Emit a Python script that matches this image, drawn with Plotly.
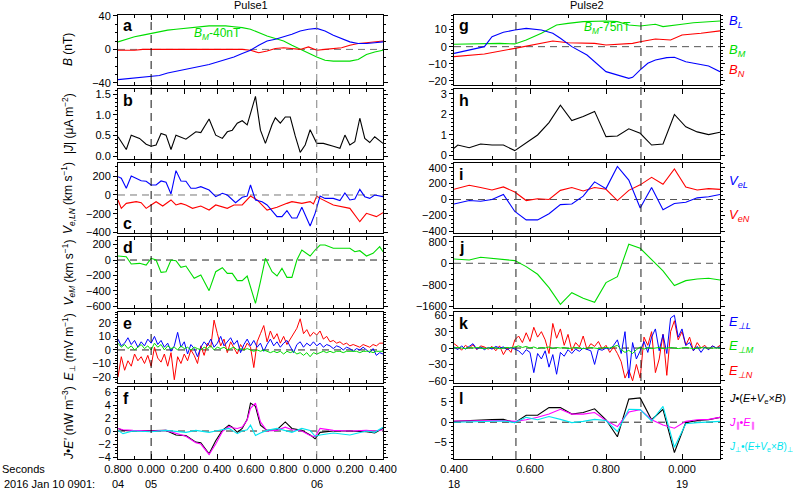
import plotly.graph_objects as go

# ------------------------------------------------------------------ data
# Pulse 1 (seconds after 09:01:00, 2016 Jan 10)
BT1 = [4.80, 4.85, 4.90, 4.95, 5.00, 5.05, 5.10, 5.15, 5.20, 5.25, 5.30, 5.35, 5.40,
       5.45, 5.50, 5.55, 5.60, 5.65, 5.70, 5.75, 5.80, 5.85, 5.90, 5.95, 6.00, 6.05,
       6.10, 6.15, 6.20, 6.25, 6.30, 6.35, 6.40]
BL1 = [-36, -35, -34, -33, -32, -31, -28, -26, -24, -22, -20, -18, -15, -12, -9, -5, -1,
       5, 10, 12, 15, 18, 22, 24, 25, 22, 17, 13, 9, 7, 7, 8, 9]
BM1 = [9, 12, 15, 17, 19, 21, 23, 24, 25, 26, 27, 28, 28, 28, 27, 26, 24, 20, 16, 13,
       10, 5, 0, -5, -9, -13, -14, -14, -14, -12, -6, -3, -1]
BN1 = [-1, -1, -1, 0, 0, 0, 0, 0, 0, 0, 0, 0, 0, 0, 0, 0, -1, -4, -2, 1, 2, 1, 0, 3, -1,
       0, 1, 2, 5, 7, 8, 9, 10]

JT1 = [4.80, 4.85, 4.88, 4.93, 4.97, 5.00, 5.03, 5.06, 5.09, 5.12, 5.15, 5.21, 5.27,
       5.30, 5.35, 5.39, 5.43, 5.46, 5.49, 5.52, 5.55, 5.58, 5.63, 5.66, 5.69, 5.73,
       5.75, 5.78, 5.81, 5.84, 5.87, 5.90, 5.93, 5.96, 6.00, 6.04, 6.10, 6.14, 6.17,
       6.20, 6.23, 6.26, 6.29, 6.32, 6.35, 6.40]
J1 = [0.47, 0.16, 0.51, 0.43, 0.29, 0.24, 0.27, 0.55, 0.51, 0.16, 0.51, 0.41, 0.59,
      0.57, 0.90, 0.51, 0.43, 0.59, 0.63, 0.80, 0.86, 0.76, 1.45, 0.63, 0.31, 0.76,
      0.93, 0.80, 0.95, 0.95, 0.49, 0.09, 0.27, 0.64, 0.31, 0.31, 0.24, 0.19, 0.51,
      0.27, 0.35, 0.92, 0.43, 0.33, 0.47, 0.31]

VLT1 = [4.80, 4.82, 4.85, 4.88, 4.94, 4.97, 5.00, 5.03, 5.06, 5.09, 5.12, 5.15, 5.18,
        5.21, 5.24, 5.27, 5.30, 5.35, 5.39, 5.43, 5.46, 5.51, 5.55, 5.58, 5.60, 5.63,
        5.67, 5.70, 5.76, 5.79, 5.82, 5.85, 5.88, 5.91, 5.96, 5.99, 6.02, 6.05, 6.10,
        6.14, 6.17, 6.20, 6.23, 6.26, 6.29, 6.32, 6.35, 6.40]
VL1 = [195, 178, 71, 202, 152, 146, 106, 106, 149, 135, 11, 259, 149, 146, 71, 71, 89,
       53, -18, 18, 0, -82, -25, -11, 106, -53, -71, -106, -230, -230, -167, -245, -245,
       -130, -330, -195, -11, -36, -36, -60, 21, -53, -43, 60, -18, -36, 0, -18]
VNT1 = [4.80, 4.82, 4.85, 4.91, 4.94, 4.97, 5.00, 5.03, 5.07, 5.12, 5.15, 5.18, 5.21,
        5.25, 5.30, 5.35, 5.39, 5.46, 5.50, 5.55, 5.60, 5.64, 5.70, 5.76, 5.82, 5.85,
        5.91, 5.96, 5.98, 6.00, 6.02, 6.10, 6.20, 6.26, 6.30, 6.34, 6.36, 6.40]
VN1 = [-53, -142, -89, -71, -82, -142, -106, -71, -117, -53, -106, -89, -106, -142,
       -117, -160, -106, -142, -106, -106, -11, -53, -160, -130, -89, -71, -89, -71,
       -96, -11, -36, -106, -142, -284, -195, -213, -230, -188]

VMT1 = [4.80, 4.85, 4.88, 4.93, 4.97, 5.00, 5.03, 5.06, 5.09, 5.12, 5.15, 5.18, 5.21,
        5.26, 5.30, 5.35, 5.39, 5.43, 5.46, 5.49, 5.52, 5.55, 5.58, 5.63, 5.66, 5.69,
        5.73, 5.76, 5.79, 5.82, 5.85, 5.88, 5.91, 5.96, 5.99, 6.02, 6.05, 6.10, 6.20,
        6.23, 6.26, 6.30, 6.34, 6.38, 6.40]
VM1 = [52, 43, -52, -43, -65, 22, 0, -160, -152, 0, -9, -95, -78, -238, -195, -398,
       -152, -100, -173, -173, -268, -268, -208, -563, -281, 22, -152, -208, -108, -225,
       -225, 0, 130, 52, 130, 195, 195, 152, 152, 108, 121, 52, 87, 173, 108]

ET1 = [4.80, 4.82, 4.84, 4.86, 4.88, 4.90, 4.92, 4.94, 4.96, 4.98,
       5.00, 5.02, 5.04, 5.06, 5.08, 5.10, 5.12, 5.14, 5.16, 5.18,
       5.20, 5.22, 5.24, 5.26, 5.28, 5.30, 5.32, 5.34, 5.36, 5.38,
       5.40, 5.42, 5.44, 5.46, 5.48, 5.50, 5.52, 5.54, 5.56, 5.58,
       5.60, 5.62, 5.64, 5.66, 5.68, 5.70, 5.72, 5.74, 5.76, 5.78,
       5.80, 5.82, 5.84, 5.86, 5.88, 5.90, 5.92, 5.94, 5.96, 5.98,
       6.00, 6.02, 6.04, 6.06, 6.08, 6.10, 6.12, 6.14, 6.16, 6.18,
       6.20, 6.22, 6.24, 6.26, 6.28, 6.30, 6.32, 6.34, 6.36, 6.38, 6.40]
EL1 = [8, 3, 5, 9, 4, 7, 2, 6, 3, 8,
       5, 10, 4, 7, 2, 5, -1, 3, 13, 2,
       6, -3, 4, 1, -5, 2, 6, 3, 8, 2,
       5, 10, 3, 6, 9, 4, 7, -2, 4, 8,
       3, 7, 2, 5, -1, 4, 8, 3, 6, 2,
       5, 7, 3, -2, 4, 6, 2, 5, 3, 6,
       3, 5, 2, 4, 3, 1, 3, 2, 0, 2,
       1, -1, 1, 0, 2, 0, -2, 1, -4, -2, -3]
EM1 = [5, 2, 4, 1, 3, 0, 2, 4, 1, 3,
       0, 5, 2, 4, 0, 3, 1, 2, 0, 3,
       1, 2, 0, 2, 1, 0, 2, 1, 3, 0,
       2, 1, 2, 0, 1, 2, 0, 1, 0, 1,
       0, -1, 0, -1, 0, -1, -2, -1, -2, -1,
       -3, -1, -2, -1, -3, -2, -4, -2, -5, -2,
       -3, -2, -1, -2, -1, -2, -1, -1, -2, -1,
       -1, -1, -1, -2, -1, -1, -1, -2, -1, -1, -1]
EN1 = [-20, -5, -15, -8, -12, -3, -8, -5, -10, -4,
       -12, 2, -6, -9, -3, -12, -2, -22, -5, -10,
       -3, -8, 0, -4, -10, 3, -4, 5, 2, 22,
       12, 3, 8, -2, 6, 2, -3, 4, 0, 5,
       2, -13, 6, 12, 18, 6, 14, 8, 12, 5,
       10, 4, 8, 13, 16, 23, 12, 15, 10, 13,
       11, 14, 8, 10, 6, 7, 5, 6, 4, 5,
       3, 4, 3, 2, 4, 3, 2, 4, 3, 5, 5]

PT1 = [4.80, 4.83, 4.89, 5.00, 5.09, 5.15, 5.21, 5.27, 5.30, 5.35, 5.39, 5.43, 5.47,
       5.49, 5.52, 5.55, 5.58, 5.60, 5.63, 5.66, 5.70, 5.76, 5.81, 5.85, 5.91, 5.96,
       5.99, 6.02, 6.10, 6.20, 6.30, 6.35, 6.40]
JE1 = [0.4, 0.1, 0, 0, 0.1, -0.6, -0.7, -1.7, -1.8, -3.5, -1.5, 0.1, 0.9, 0.6, -0.2,
       0.4, 1.8, 4.3, 3.8, 0.9, 0.1, 0.2, 1.4, 0.4, 0.1, -0.6, -1.2, -0.2, 0, 0, -0.1,
       -0.3, 0.4]
JEpar1 = [0.4, 0.2, 0.1, 0, 0.1, -0.4, -0.8, -1.8, -2.0, -3.6, -2.0, -0.1, 0.7, 0.5,
          0.4, 0.6, 1.7, 3.5, 4.3, 1.4, 0, 0.1, 0.6, 0.2, 0, -0.7, -0.9, 0.4, 0.1, 0,
          0.1, 0, 0.2]
JEperp1 = [0.1, -0.4, 0, -0.1, 0.1, 0, -0.2, 0.1, 0, -0.2, 0, 0.2, 0.4, 0.1, -0.4, 0,
           0.2, 0.9, -0.7, -0.3, 0.1, 0.4, 0.1, -0.2, 0.4, 0.1, -0.8, -0.6, -0.3, -0.6,
           0, -0.2, 0.6]

# Pulse 2 (seconds after 09:01:00)
BLT2 = [18.40, 18.43, 18.48, 18.50, 18.53, 18.56, 18.59, 18.63, 18.66, 18.68, 18.71,
        18.75, 18.80, 18.86, 18.87, 18.89, 18.91, 18.93, 18.96, 18.98, 19.01, 19.07, 19.10]
BL2 = [-3.9, -2.5, 0, 5.8, 8.4, 9.7, 10.7, 9.7, 7.8, 4.9, 0, -4.9, -14.6, -18.5, -17.9,
       -13.6, -9.7, -7.8, -6.4, -6.2, -8.8, -11.3, -14.6]
BMT2 = [18.40, 18.52, 18.56, 18.59, 18.63, 18.67, 18.70, 18.74, 18.80, 18.83, 18.86,
        18.89, 18.93, 18.95, 19.00, 19.03, 19.10]
BM2 = [1.4, 1.9, 1.6, 3.9, 7.8, 12.7, 13.6, 14.6, 15.0, 14.6, 12.7, 12.1, 13.1, 11.7,
       13.1, 14.0, 15.0]
BNT2 = [18.40, 18.48, 18.56, 18.61, 18.66, 18.70, 18.77, 18.80, 18.87, 18.89, 18.93,
        18.97, 19.00, 19.05, 19.10]
BN2 = [-5.8, -4.3, -1, 1, 3.3, 2.3, 1.9, 1, 1.9, 2.9, 4.5, 3.9, 6.8, 7.8, 9.2]

JT2 = [18.40, 18.41, 18.44, 18.47, 18.50, 18.53, 18.56, 18.59, 18.62, 18.65, 18.68,
       18.71, 18.74, 18.77, 18.80, 18.83, 18.86, 18.89, 18.92, 18.95, 18.98, 19.01,
       19.04, 19.07, 19.10]
J2 = [0.35, 0.51, 0.38, 0.56, 0.51, 0.51, 0.24, 0.60, 1.00, 1.60, 2.45, 1.70, 1.90,
      2.15, 0.92, 0.95, 1.30, 1.08, 0.51, 0.56, 2.00, 1.40, 1.15, 1.02, 1.13]

RT2 = [18.40, 18.44, 18.47, 18.50, 18.53, 18.56, 18.59, 18.62, 18.65, 18.68, 18.71,
       18.74, 18.77, 18.80, 18.83, 18.86, 18.89, 18.92, 18.95, 18.98, 19.01, 19.04,
       19.07, 19.10]
VL2 = [-56, -13, -21, 0, 64, -150, -256, -256, -179, -64, -56, 43, 222, 137, 415, 244,
       -107, 150, -128, -51, -34, 21, 34, 64]
VN2 = [128, 179, 150, 120, 158, 94, -13, 9, 0, 115, 150, 107, 150, 128, -13, 115, 184,
       278, 192, 385, 158, 120, 137, 128]
VM2 = [162, 124, 224, 174, 124, 100, -124, -410, -908, -1530, -1095, -1306, -1455,
       -721, -498, 709, 560, 124, -286, -833, -647, -585, -560, -622]
JE2 = [0.2, 0.4, 0.6, 0.65, 0.7, -0.1, 1.7, 1.7, 3.6, 3.6, 2.0, 2.4, 3.3, 0.6, -3.6,
       5.7, 6.0, 0.6, 3.2, -7.5, -0.1, 0.4, 0.6, 1.2]
JEpar2 = [0.3, 0.35, 0.4, 0.4, 0.4, 0.2, 0.6, 1.2, 2.0, 3.2, 2.0, 2.0, 2.4, 0.4, -1.1,
          2.5, 3.1, 0.6, -0.7, -1.5, 0.2, 0.6, 0.7, 1.2]
JEperp2 = [0, 0.1, 0.2, 0.25, 0.3, -0.1, 1.2, 0.6, 1.4, 0.7, -0.1, 0.2, 0.7, 0.4, -2.3,
           3.2, 3.1, 0.3, 3.9, -6.2, -0.4, -0.1, 0, 0.2]

ET2 = [18.40, 18.41, 18.42, 18.43, 18.44, 18.45, 18.46, 18.47, 18.48, 18.49,
       18.50, 18.51, 18.52, 18.53, 18.54, 18.55, 18.56, 18.57, 18.58, 18.59,
       18.60, 18.61, 18.62, 18.63, 18.64, 18.65, 18.66, 18.67, 18.68, 18.69,
       18.70, 18.71, 18.72, 18.73, 18.74, 18.75, 18.76, 18.77, 18.78, 18.79,
       18.80, 18.81, 18.82, 18.83, 18.84, 18.85, 18.86, 18.87, 18.88, 18.89,
       18.90, 18.91, 18.92, 18.93, 18.94, 18.95, 18.96, 18.97, 18.98, 18.99,
       19.00, 19.01, 19.02, 19.03, 19.04, 19.05, 19.06, 19.07, 19.08, 19.09, 19.10]
EL2 = [2, -3, 4, -2, 3, 8, -2, 2, -3, 1,
       -2, 3, 0, 2, -3, 1, -2, -5, -12, -3,
       -8, -45, -10, -20, -5, -35, -12, -48, -8, -15,
       -3, -10, -2, -6, 0, -3, -5, -30, -2, -4,
       0, -2, 5, 15, -10, 30, -55, 10, -20, -5,
       12, -8, 20, 35, -5, 25, -10, 55, 60, 20,
       35, 5, 10, -5, 3, -8, 2, -3, 4, 0, 2]
EM2 = [0, 1, 0, -1, 1, 0, 1, 0, -1, 0,
       1, 0, -1, 0, 1, 0, 2, 4, 1, 3,
       0, 2, -1, 1, 0, 2, -1, 1, 0, 1,
       -1, 0, 1, 0, -1, 0, 1, 0, -1, 0,
       1, 0, 2, 5, -3, -8, -4, -10, -3, 2,
       -2, 1, -1, 0, 1, -1, 0, 1, 0, -1,
       0, 1, 0, -1, 0, 1, 0, 0, 1, 0, 0]
EN2 = [8, 3, -4, 5, 0, 6, -3, 4, 2, -2,
       3, -5, 4, -12, 0, -8, 15, 22, 10, 28,
       12, 38, 20, 30, 15, -10, 45, 18, 35, 5,
       25, -5, 10, 2, 22, -3, 8, 3, 12, -2,
       5, -8, 2, -10, -25, -55, -40, -60, -30, -55,
       20, 5, 30, -45, -20, 25, -50, 30, 50, 15,
       30, 5, 20, -5, 10, 0, 5, -3, 4, 0, 5]

# axis tick labels
XT1 = [4.8, 5.0, 5.2, 5.4, 5.6, 5.8, 6.0, 6.2, 6.4]
XL1 = ["0.800", "0.000", "0.200", "0.400", "0.600", "0.800", "0.000", "0.200", "0.400"]
XT2 = [18.4, 18.6, 18.8, 19.0]
XL2 = ["0.400", "0.600", "0.800", "0.000"]
MIN1 = [(4.8, "04"), (5.0, "05"), (6.0, "06")]
MIN2 = [(18.4, "18"), (19.0, "19")]
DASH1 = [5.0, 6.0]
DASH2 = [18.563, 18.892]

# ------------------------------------------------------------------ layout
W, H = 799, 490
FONT = "Liberation Sans, Arial, Helvetica, sans-serif"
COLS = [(118, 383), (454, 720)]
ROWS = [(15, 85), (89, 159), (163, 233), (237, 308), (312, 383), (387, 459)]
XR = [(4.8, 6.4), (18.4, 19.1)]
BLUE, GREEN, RED = "#0000ff", "#00dd00", "#ff0000"
MAG, CYAN = "#ff00ff", "#00e5f0"

# (range, dtick, minor dtick, tickformat, zero-line colour or None)
YCFG = [
    [([-42.4, 41], 40, 10, None, "#777"),
     ([-0.07, 1.63], 0.5, 0.1, ".1f", None),
     ([-404, 340], 200, 50, None, "#777"),
     ([-623, 299], 200, 50, None, "#222"),
     ([-24.4, 28], 10, 2, None, "#222"),
     ([-4.3, 6.77], 2, 0.5, None, "#222")],
    [([-22.4, 18.5], 10, 2, None, "#555"),
     ([-0.17, 3.24], 1, 0.2, None, None),
     ([-421, 459], 200, 50, None, "#555"),
     ([-1668, 981], 800, 200, None, "#555"),
     ([-64, 66], 30, 10, None, "#222"),
     ([-9.1, 8.7], 5, 1, None, "#222")],
]

def px2x(px):
    return px / W

def py2y(py):
    return 1 - py / H

fig = go.Figure()
lay = dict(template="none", width=W, height=H,
           margin=dict(l=0, r=0, t=0, b=0, pad=0, autoexpand=False),
           paper_bgcolor="white", plot_bgcolor="white", showlegend=False,
           font=dict(family=FONT, size=11, color="black"))
shapes, annots = [], []

def axid(c, r):
    return c * 6 + r + 1

for c in range(2):
    for r in range(6):
        n = axid(c, r)
        xk = "xaxis" if n == 1 else f"xaxis{n}"
        yk = "yaxis" if n == 1 else f"yaxis{n}"
        rng, dt, mdt, tf, zc = YCFG[c][r]
        lay[xk] = dict(
            domain=[px2x(COLS[c][0]), px2x(COLS[c][1])], anchor=f"y{n}",
            automargin=False,
            range=list(XR[c]), tickmode="array",
            tickvals=XT1 if c == 0 else XT2, ticktext=XL1 if c == 0 else XL2,
            showticklabels=(r == 5), ticks="inside", ticklen=5, tickcolor="black",
            mirror="allticks", showline=True, linecolor="black", linewidth=1,
            showgrid=False, zeroline=False, tickfont=dict(size=11),
            minor=dict(tickmode="linear", tick0=XR[c][0], dtick=0.1, ticks="inside",
                       ticklen=3, tickcolor="black", showgrid=False))
        ya = dict(domain=[py2y(ROWS[r][1]), py2y(ROWS[r][0])], anchor=f"x{n}",
                  automargin=False,
                  range=rng, tickmode="linear", tick0=0, dtick=dt, ticks="outside",
                  ticklen=4, tickcolor="black", mirror="allticks", showline=True,
                  linecolor="black", linewidth=1, showgrid=False, zeroline=False,
                  tickfont=dict(size=11),
                  minor=dict(tickmode="linear", tick0=0, dtick=mdt, ticks="outside",
                             ticklen=2, tickcolor="black", showgrid=False))
        if tf:
            ya["tickformat"] = tf
        lay[yk] = ya
        if zc:
            shapes.append(dict(type="line", xref=f"x{n}", yref=f"y{n}",
                               x0=XR[c][0], x1=XR[c][1], y0=0, y1=0, layer="below",
                               line=dict(color=zc, width=1, dash="7px,5px")))

def add(c, r, x, y, color, w=1.1):
    n = axid(c, r)
    fig.add_trace(go.Scatter(x=x, y=y, mode="lines", xaxis=f"x{n}", yaxis=f"y{n}",
                             line=dict(color=color, width=w), hoverinfo="skip"))

# Pulse 1
add(0, 0, BT1, BM1, GREEN); add(0, 0, BT1, BN1, RED); add(0, 0, BT1, BL1, BLUE)
add(0, 1, JT1, J1, "black")
add(0, 2, VNT1, VN1, RED); add(0, 2, VLT1, VL1, BLUE)
add(0, 3, VMT1, VM1, GREEN)
add(0, 4, ET1, EN1, RED, 1); add(0, 4, ET1, EL1, BLUE, 1); add(0, 4, ET1, EM1, GREEN, 1)
add(0, 5, PT1, JE1, "black"); add(0, 5, PT1, JEpar1, MAG); add(0, 5, PT1, JEperp1, CYAN)
# Pulse 2
add(1, 0, BMT2, BM2, GREEN); add(1, 0, BNT2, BN2, RED); add(1, 0, BLT2, BL2, BLUE)
add(1, 1, JT2, J2, "black")
add(1, 2, RT2, VN2, RED); add(1, 2, RT2, VL2, BLUE)
add(1, 3, RT2, VM2, GREEN)
add(1, 4, ET2, EN2, RED, 1); add(1, 4, ET2, EL2, BLUE, 1); add(1, 4, ET2, EM2, GREEN, 1)
add(1, 5, RT2, JE2, "black"); add(1, 5, RT2, JEpar2, MAG); add(1, 5, RT2, JEperp2, CYAN)

# vertical dashed markers
for c, ts, cols in [(0, DASH1, ["#111", "#808080"]), (1, DASH2, ["#222", "#222"])]:
    for t, col in zip(ts, cols):
        shapes.append(dict(type="line", xref=f"x{axid(c, 0)}", yref="paper",
                           x0=t, x1=t, y0=py2y(ROWS[5][1]), y1=py2y(ROWS[0][0]),
                           layer="above", line=dict(color=col, width=1, dash="8px,5px")))

def ann(x, y, text, size=11, color="black", xanchor="center", yanchor="middle",
        xref="paper", angle=0):
    annots.append(dict(x=x, y=y, xref=xref, yref="paper", text=text, showarrow=False,
                       xanchor=xanchor, yanchor=yanchor, textangle=angle,
                       font=dict(size=size, color=color, family=FONT)))

# column titles
ann(px2x(251), py2y(5), "Pulse1", 11)
ann(px2x(587), py2y(5), "Pulse2", 11)

# panel letters
letters = ["abcdef", "ghijkl"]
for c in range(2):
    for r in range(6):
        ypix = ROWS[r][1] - 9 if (c == 0 and r == 2) else ROWS[r][0] + 11
        ann(px2x(COLS[c][0] + 3), py2y(ypix), f"<b>{letters[c][r]}</b>", 16,
            xanchor="left")

# y-axis titles (left column)
ytitles = ["<i>B</i> (nT)", "|<i>J</i>| (μA m<sup>−2</sup>)",
           "<i>V</i><sub><i>e,LN</i></sub> (km s<sup>−1</sup>)",
           "<i>V</i><sub><i>eM</i></sub> (km s<sup>−1</sup>)",
           "<i>E</i><sub>⊥</sub> (mV m<sup>−1</sup>)",
           "<i>J</i>•<i>E'</i> (nW m<sup>−3</sup>)"]
for r, t in enumerate(ytitles):
    ann(px2x(68), py2y((ROWS[r][0] + ROWS[r][1]) / 2), t, 12, angle=-90)

# in-panel annotations
ann(px2x(217), py2y(34), "<i>B<sub>M</sub></i>-40nT", 12, GREEN)
ann(px2x(607), py2y(28), "<i>B<sub>M</sub></i>-75nT", 12, GREEN)

# right-hand labels
LX = px2x(727)
for y, t, col, s in [
        (22, "<i>B<sub>L</sub></i>", BLUE, 13), (50, "<i>B<sub>M</sub></i>", GREEN, 13),
        (71, "<i>B<sub>N</sub></i>", RED, 13),
        (181, "<i>V<sub>eL</sub></i>", BLUE, 13), (216, "<i>V<sub>eN</sub></i>", RED, 13),
        (322, "<i>E<sub>⊥L</sub></i>", BLUE, 13), (346, "<i>E<sub>⊥M</sub></i>", GREEN, 13),
        (371, "<i>E<sub>⊥N</sub></i>", RED, 13),
        (399, "<i>J</i>•(<i>E</i>+<i>V</i><sub>e</sub>×<i>B</i>)", "black", 11),
        (423, "<i>J</i><sub>∥</sub>•<i>E</i><sub>∥</sub>", MAG, 11),
        (447, "<i>J</i><sub>⊥</sub>•(<i>E</i>+<i>V</i><sub>e</sub>×<i>B</i>)<sub>⊥</sub>",
         CYAN, 10)]:
    ann(LX, py2y(y), t, s, col, xanchor="left")

# bottom time labels
ann(0, py2y(469), "Seconds", 11, xanchor="left")
ann(px2x(2), py2y(484), "2016 Jan 10 0901:", 11, xanchor="left")
for t, s in MIN1:
    ann(t, py2y(484), s, 11, xref=f"x{axid(0, 5)}")
for t, s in MIN2:
    ann(t, py2y(484), s, 11, xref=f"x{axid(1, 5)}")

lay["shapes"] = shapes
lay["annotations"] = annots
fig.update_layout(**lay)
fig.write_html("out.html", config={"displayModeBar": False, "staticPlot": True},
               post_script="document.body.style.margin='0px';"
                           "document.body.style.overflow='hidden';")
